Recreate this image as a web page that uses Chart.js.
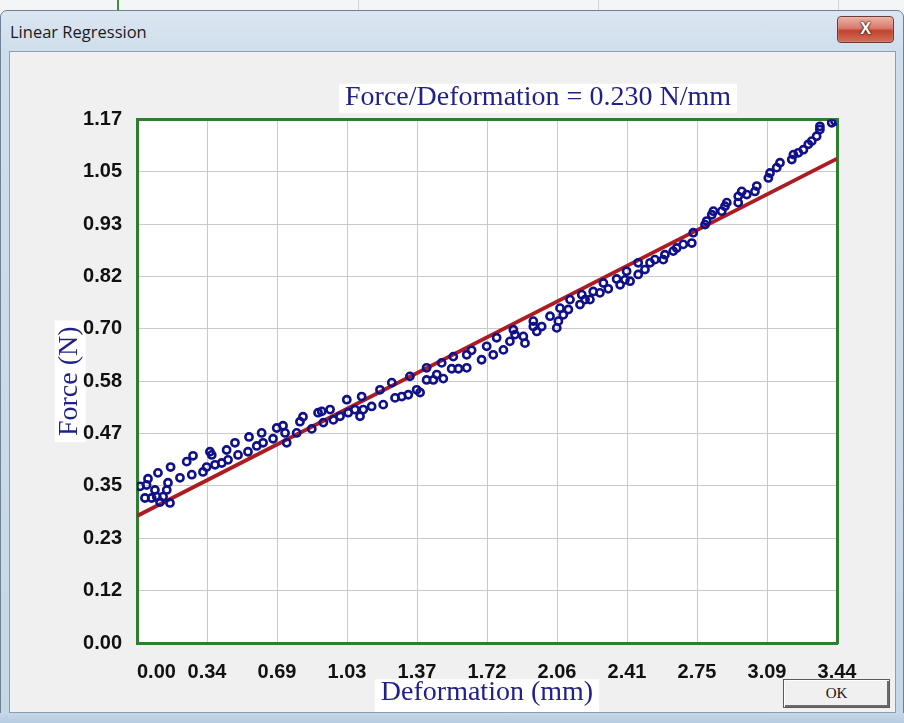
<!DOCTYPE html>
<html>
<head>
<meta charset="utf-8">
<script src="https://cdn.jsdelivr.net/npm/chart.js@4/dist/chart.umd.min.js"></script>
<style>
  html, body { margin:0; padding:0; }
  body { width:904px; height:723px; overflow:hidden; position:relative; background:#e9edf1; font-family:"Open Sans","Noto Sans",sans-serif; }
  #topstrip { position:absolute; left:0; top:0; width:904px; height:14px; background:#f4f5f6; }
  .vline { position:absolute; top:0; height:12px; width:1px; background:#cfd3d8; }
  #frame { position:absolute; left:0; top:10px; width:902px; height:720px; border:1px solid #6f8196; border-radius:7px 7px 0 0;
           background:linear-gradient(180deg,#dbe6f1 0px,#cfdeec 40px,#c6d7e7 100%); }
  #caption { position:absolute; left:10px; top:20px; font-size:16.5px; color:#1b1b1b; }
  #close { position:absolute; left:837px; top:16px; width:55px; height:25px; border:1px solid #6e3b36; border-radius:4px;
           background:linear-gradient(180deg,#eab2a6 0%,#d87a6a 45%,#c2432f 55%,#d0705c 100%);
           color:#fff; font:bold 16px "Liberation Sans",sans-serif; text-align:center; line-height:24px;
           text-shadow:0 0 2px #3a1010, 0 0 2px #3a1010; box-shadow:inset 0 0 1px #fff; }
  #client { position:absolute; left:9px; top:51px; width:885px; height:660px; border:1px solid #8d9db1; background:#f0f0f0; }
  #bottomframe { position:absolute; left:0; top:713px; width:904px; height:10px; background:linear-gradient(180deg,#c8d8e8,#b6cbe0); }
  #chartwrap { position:absolute; left:10px; top:52px; width:885px; height:660px; }
  #ok { position:absolute; left:783px; top:679px; width:105px; height:27px; background:#f0f0f0;
        border:1px solid #5a5a5a; box-shadow: inset 1px 1px 0 #ffffff, inset -2px -2px 0 #6a6a6a;
        font:15px "Liberation Serif",serif; color:#111; text-align:center; line-height:27px; }
</style>
</head>
<body>
<div id="topstrip"></div>
<div class="vline" style="left:117px;width:2px;background:#3e8f3e;"></div>
<div class="vline" style="left:358px;"></div>
<div class="vline" style="left:598px;"></div>
<div class="vline" style="left:838px;"></div>
<div id="frame"></div>
<div id="caption">Linear Regression</div>
<div id="close">X</div>
<div id="bottomframe"></div>
<div id="client"></div>
<div id="chartwrap"><canvas id="c" width="885" height="660"></canvas></div>
<div id="ok">OK</div>
<script>
// ---------- data ----------
const deformation = [
  0.015,0.039,0.047,0.054,0.072,0.088,0.097,0.103,0.113,0.128,0.146,0.152,0.162,0.165,0.211,0.244,0.269,0.275,0.324,0.342,
  0.358,0.367,0.383,0.416,0.440,0.447,0.481,0.496,0.545,0.550,0.588,0.612,0.619,0.668,0.686,0.717,0.727,0.735,0.784,0.800,
  0.815,0.858,0.889,
  0.907,0.915,0.948,0.964,0.997,1.030,1.037,1.070,1.095,1.103,1.111,1.152,1.193,1.209,1.251,1.267,1.300,1.332,1.340,1.373,
  1.390,1.422,1.422,1.455,1.472,1.496,1.504,1.545,1.553,1.578,1.619,1.619,1.643,1.692,1.717,1.749,1.766,1.799,1.831,
  1.848,1.856,1.897,1.905,1.946,1.946,1.963,1.987,2.028,2.061,2.069,2.077,2.093,2.118,2.126,2.175,2.184,2.200,2.224,2.240,
  2.273,2.290,2.314,2.355,2.372,2.396,2.404,2.421,2.461,2.461,2.494,2.519,2.543,2.584,2.592,2.633,2.650,2.682,2.724,2.731,
  2.789,2.797,2.822,2.830,2.871,2.887,2.896,2.952,2.952,2.969,2.994,3.034,3.043,3.100,3.108,3.141,3.157,3.215,3.223,3.247,
  3.272,3.296,3.313,3.337,3.353,3.353,3.411,3.427
];
const force = [
  0.349,0.323,0.352,0.366,0.323,0.341,0.326,0.379,0.314,0.326,0.341,0.357,0.312,0.392,0.368,0.404,0.375,0.417,0.381,0.392,
  0.426,0.419,0.397,0.401,0.430,0.408,0.446,0.419,0.426,0.459,0.439,0.468,0.446,0.455,0.479,0.484,0.468,0.446,0.468,0.493,
  0.504,0.477,0.513,
  0.516,0.491,0.520,0.497,0.505,0.542,0.513,0.520,0.505,0.549,0.520,0.527,0.564,0.531,0.580,0.546,0.549,0.553,0.594,0.564,
  0.558,0.613,0.586,0.586,0.598,0.624,0.589,0.611,0.638,0.611,0.613,0.642,0.652,0.631,0.661,0.642,0.680,0.653,0.672,
  0.698,0.687,0.683,0.668,0.717,0.705,0.694,0.705,0.728,0.702,0.717,0.746,0.731,0.743,0.765,0.754,0.776,0.765,0.765,0.783,
  0.780,0.802,0.789,0.811,0.798,0.809,0.828,0.806,0.821,0.847,0.832,0.847,0.854,0.854,0.865,0.873,0.880,0.888,0.891,0.914,
  0.932,0.940,0.954,0.962,0.962,0.973,0.981,0.981,0.995,1.006,0.999,1.006,1.018,1.036,1.047,1.059,1.070,1.077,1.088,1.092,
  1.099,1.111,1.118,1.129,1.144,1.151,1.159,1.163
];
const fitDeformation = [0, 3.437];
const fitForce = [0.283, 1.079];

const xTickValues = [0, 0.3437, 0.6874, 1.0311, 1.3748, 1.7185, 2.0622, 2.4059, 2.7496, 3.0933, 3.437];
const xTickLabels = ['0.00','0.34','0.69','1.03','1.37','1.72','2.06','2.41','2.75','3.09','3.44'];
const yTickValues = [0, 0.1166, 0.2332, 0.3498, 0.4664, 0.583, 0.6996, 0.8162, 0.9328, 1.0494, 1.166];
const yTickLabels = ['0.00','0.12','0.23','0.35','0.47','0.58','0.70','0.82','0.93','1.05','1.17'];

const chartTitle = 'Force/Deformation = 0.230 N/mm';
const xTitle = 'Deformation (mm)';
const yTitle = 'Force (N)';

// ---------- styles ----------
const NAVY = '#21218a';
const POINT = '#10108a';
const FITRED = '#ad1c22';
const GREEN = '#2f7d2f';
const GRID = '#c9c9c9';
const TICKFONT = { family: 'Liberation Sans', size: 20, weight: 'bold' };
const SERIF = { family: 'Liberation Serif', size: 28, weight: 'normal' };
const TITLE_CENTER_X = 528;

const scatterPoints = deformation.map((x, i) => ({ x: x, y: force[i] }));
const fitPoints = fitDeformation.map((x, i) => ({ x: x, y: fitForce[i] }));

const decor = {
  id: 'decor',
  afterLayout(chart) {
    const t = chart.titleBlock;
    if (!t) return;
    const dx = TITLE_CENTER_X - (t.left + t.right) / 2;
    t.left += dx; t.right += dx;
  },
  beforeDraw(chart) {
    const { ctx, chartArea: a } = chart;
    const H = Chart.helpers;
    ctx.save();
    ctx.fillStyle = '#ffffff';
    ctx.fillRect(a.left, a.top, a.right - a.left, a.bottom - a.top);
    const t = chart.titleBlock;
    const tf = H.toFont(t.options.font);
    ctx.font = tf.string;
    const tw = ctx.measureText(t.options.text).width;
    const tcx = (t.left + t.right) / 2;
    const tcy = t.top + H.toPadding(t.options.padding).top + tf.lineHeight / 2;
    ctx.fillRect(tcx - tw / 2 - 6, tcy - 14, tw + 12, 29);
    const xs = chart.scales.x;
    const xf = H.toFont(xs.options.title.font);
    ctx.font = xf.string;
    const xw = ctx.measureText(xs.options.title.text).width;
    const xcx = (xs.left + xs.right) / 2;
    const xcy = xs.bottom - xf.lineHeight / 2 - H.toPadding(xs.options.title.padding).bottom;
    ctx.fillRect(xcx - xw / 2 - 6, xcy - 13, xw + 12, 40);
    const ys = chart.scales.y;
    const yf = H.toFont(ys.options.title.font);
    ctx.font = yf.string;
    const yw = ctx.measureText(ys.options.title.text).width;
    const ycx = ys.left + yf.lineHeight / 2 + H.toPadding(ys.options.title.padding).top;
    const ycy = (ys.top + ys.bottom) / 2;
    ctx.fillRect(ycx - 15, ycy - yw / 2 - 6, 31, yw + 12);
    ctx.restore();
  }
};

new Chart(document.getElementById('c'), {
  data: {
    datasets: [
      { type: 'scatter', label: 'Force', data: scatterPoints, xAxisID: 'x', yAxisID: 'y',
        pointStyle: 'circle', pointRadius: 3.6, pointBorderWidth: 2.6, borderWidth: 2.6,
        borderColor: POINT, pointBorderColor: POINT, backgroundColor: 'rgba(0,0,0,0)', pointBackgroundColor: 'rgba(0,0,0,0)', order: 1 },
      { type: 'line', label: 'Linear fit', data: fitPoints, xAxisID: 'x', yAxisID: 'y',
        borderColor: FITRED, borderWidth: 3.8, pointRadius: 0, fill: false, tension: 0, order: 2 }
    ]
  },
  options: {
    responsive: false,
    animation: false,
    devicePixelRatio: 1,
    layout: { padding: { left: 0, right: 58, top: 0, bottom: 0 } },
    plugins: {
      legend: { display: false },
      tooltip: { enabled: false },
      title: { display: true, text: chartTitle, color: NAVY, font: SERIF, padding: { top: 29, bottom: 5 } }
    },
    scales: {
      x: {
        type: 'linear', position: 'bottom', min: 0, max: xTickValues[xTickValues.length - 1],
        afterBuildTicks: s => { s.ticks = xTickValues.concat([xTickValues[xTickValues.length - 1]]).map(v => ({ value: v })); },
        afterFit: s => { s.height = 69; },
        grid: { color: GRID, lineWidth: 1, drawTicks: false },
        border: { display: true, color: GREEN, width: 3 },
        ticks: { autoSkip: false, maxRotation: 0, minRotation: 0, align: 'inner', padding: 17, color: '#111', font: TICKFONT,
                 callback: (v, i) => (i < xTickLabels.length ? xTickLabels[i] : '') },
        title: { display: true, text: xTitle, color: NAVY, font: SERIF, padding: { top: 0, bottom: 3 } }
      },
      xTop: {
        type: 'linear', position: 'top', display: true, min: 0, max: xTickValues[xTickValues.length - 1],
        afterFit: s => { s.height = 0; },
        grid: { display: false, drawTicks: false },
        border: { display: true, color: GREEN, width: 3 },
        ticks: { display: false }
      },
      y: {
        type: 'linear', position: 'left', min: 0, max: yTickValues[yTickValues.length - 1],
        afterBuildTicks: s => { s.ticks = yTickValues.map(v => ({ value: v })); },
        afterFit: s => { s.width = 127; },
        grid: { color: GRID, lineWidth: 1, drawTicks: false },
        border: { display: true, color: GREEN, width: 3 },
        ticks: { autoSkip: false, padding: 15, color: '#111', font: TICKFONT,
                 callback: (v, i) => yTickLabels[i] },
        title: { display: true, text: yTitle, color: NAVY, font: SERIF, padding: { top: 43, bottom: 0 } }
      },
      yRight: {
        type: 'linear', position: 'right', display: true, min: 0, max: yTickValues[yTickValues.length - 1],
        afterFit: s => { s.width = 0; },
        grid: { display: false, drawTicks: false },
        border: { display: true, color: GREEN, width: 3 },
        ticks: { display: false }
      }
    }
  },
  plugins: [decor]
});
</script>
</body>
</html>
